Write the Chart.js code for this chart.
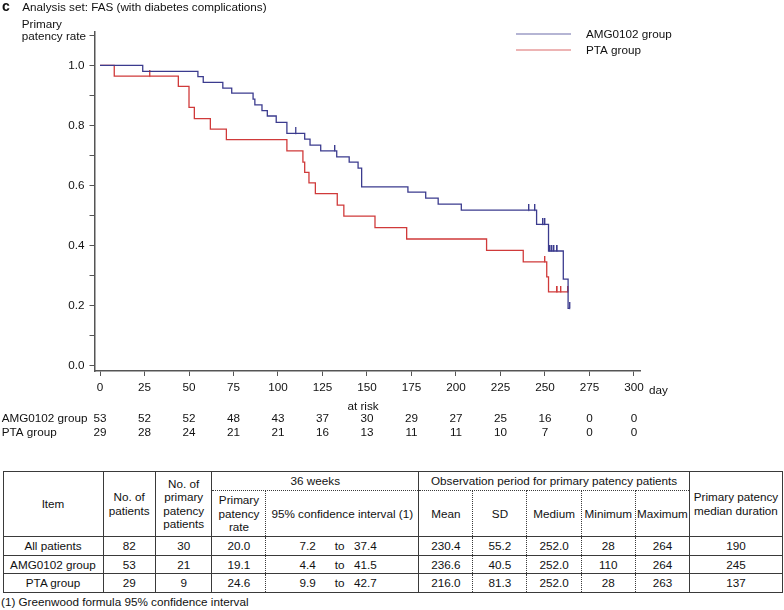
<!DOCTYPE html>
<html><head><meta charset="utf-8">
<script src="https://cdn.jsdelivr.net/npm/chart.js@4.4.1/dist/chart.umd.min.js"></script>
<style>
html,body{margin:0;padding:0;background:#fff;}
body{width:784px;height:610px;position:relative;overflow:hidden;font-family:"Liberation Sans",Arial,Helvetica,sans-serif;color:#111;}
#chartWrap{position:absolute;left:0;top:0;width:784px;height:445px;}
#tbl{position:absolute;left:2.5px;top:470.5px;border-collapse:collapse;table-layout:fixed;width:780px;font-size:11.7px;}
#tbl td{border:1px solid #3a3a3a;text-align:center;vertical-align:middle;padding:0;line-height:13.4px;overflow:hidden;white-space:nowrap;}
#tbl td.dr{border-right:1px dotted #3a3a3a;}
#tbl td.dl{border-left:1px dotted #3a3a3a;}
#tbl td.db{border-bottom:1px dotted #3a3a3a;}
#tbl td.dt{border-top:1px dotted #3a3a3a;}
#tbl td.ci{text-align:left;}
.ci .a{display:inline-block;width:49.3px;text-align:right;}
.ci .b{display:inline-block;width:29px;margin-left:9.3px;text-align:center;}
.ci .c{display:inline-block;}
#foot{position:absolute;left:1px;top:595px;font-size:11.7px;line-height:14px;}
</style></head>
<body>
<div id="chartWrap"><canvas id="c" width="784" height="445"></canvas></div>
<table id="tbl"></table>
<div id="foot">(1) Greenwood formula 95% confidence interval</div>
<script>
// ---------- data ----------
const panelLetter = 'c';
const titleText = 'Analysis set: FAS (with diabetes complications)';
const yTitleLines = ['Primary', 'patency rate'];
const xUnit = 'day';
const seriesNames = ['AMG0102 group', 'PTA group'];
const xTicks = [0, 25, 50, 75, 100, 125, 150, 175, 200, 225, 250, 275, 300];
const yTicks = [0, 0.1, 0.2, 0.3, 0.4, 0.5, 0.6, 0.7, 0.8, 0.9, 1.0, 1.1];
const yTickLabels = ['0.0', '', '0.2', '', '0.4', '', '0.6', '', '0.8', '', '1.0', ''];

// AMG0102 group step curve (day of event, survival after event)
const amgDays = [0, 24, 55, 58, 69, 74, 86, 87, 91, 94, 99, 105, 115, 118, 124, 133, 140, 145, 147, 173, 183, 190, 203, 245.3, 252, 260.3, 263, 264];
const amgRate = [1.0, 0.980, 0.962, 0.943, 0.924, 0.907, 0.887, 0.868, 0.849, 0.831, 0.810, 0.773, 0.754, 0.734, 0.715, 0.695, 0.677, 0.657, 0.595, 0.577, 0.557, 0.537, 0.517, 0.470, 0.381, 0.287, 0.190, 0.190];
const amgCensorDays = [110, 132, 241, 244.4, 249, 250, 253, 254, 255.1, 257, 264];

// PTA group step curve
const ptaDays = [0, 8, 44, 50, 53, 62, 71, 105, 114, 115, 117.4, 121, 133.3, 137, 154.5, 172.3, 217.2, 237.8, 251, 252, 263];
const ptaRate = [1.0, 0.964, 0.930, 0.860, 0.822, 0.787, 0.752, 0.715, 0.677, 0.643, 0.608, 0.572, 0.534, 0.497, 0.459, 0.421, 0.383, 0.345, 0.295, 0.245, 0.245];
const ptaCensorDays = [28, 250, 257, 259, 263];

// numbers at risk
const atRiskLabel = 'at risk';
const amgAtRisk = [53, 52, 52, 48, 43, 37, 30, 29, 27, 25, 16, 0, 0];
const ptaAtRisk = [29, 28, 24, 21, 21, 16, 13, 11, 11, 10, 7, 0, 0];

// summary table
const tableItems = ['All patients', 'AMG0102 group', 'PTA group'];
const tableNPatients = [82, 53, 29];
const tableNPrimary = [30, 21, 9];
const tableRate36 = ['20.0', '19.1', '24.6'];
const tableCiLow = ['7.2', '4.4', '9.9'];
const tableCiHigh = ['37.4', '41.5', '42.7'];
const tableMean = ['230.4', '236.6', '216.0'];
const tableSD = ['55.2', '40.5', '81.3'];
const tableMedium = ['252.0', '252.0', '252.0'];
const tableMin = [28, 110, 28];
const tableMax = [264, 264, 263];
const tableMedianDur = [190, 245, 137];

// ---------- styles ----------
const BLUE = '#3b3b8e';
const RED = '#d03a3a';
const FONT = '"Liberation Sans", Arial, Helvetica, sans-serif';
const FS = 11.7;

function stepValue(days, rates, t) {
  let v = rates[0];
  for (let i = 0; i < days.length; i++) { if (days[i] <= t) v = rates[i]; }
  return v;
}
function tickImage(color) {
  const cv = document.createElement('canvas');
  cv.width = 2; cv.height = 12;
  const c = cv.getContext('2d');
  c.fillStyle = color;
  c.fillRect(0, 0, 1.4, 6.5);
  return cv;
}

const datasets = [
  { type: 'line', label: seriesNames[0], data: amgDays.map((d, i) => ({ x: d, y: amgRate[i] })),
    stepped: true, borderColor: BLUE, borderWidth: 1.3, pointRadius: 0, fill: false },
  { type: 'line', label: seriesNames[1], data: ptaDays.map((d, i) => ({ x: d, y: ptaRate[i] })),
    stepped: true, borderColor: RED, borderWidth: 1.3, pointRadius: 0, fill: false },
  { type: 'scatter', label: 'c1', data: amgCensorDays.map(d => ({ x: d, y: stepValue(amgDays, amgRate, d) })),
    pointStyle: tickImage(BLUE), pointRadius: 3, showLine: false },
  { type: 'scatter', label: 'c2', data: ptaCensorDays.map(d => ({ x: d, y: stepValue(ptaDays, ptaRate, d) })),
    pointStyle: tickImage(RED), pointRadius: 3, showLine: false }
];

const textPlugin = {
  id: 'texts',
  afterDraw(chart) {
    const ctx = chart.ctx;
    const xs = chart.scales.x;
    ctx.save();
    ctx.fillStyle = '#111';
    ctx.textBaseline = 'alphabetic';
    ctx.textAlign = 'left';
    ctx.font = 'bold 14px ' + FONT;
    ctx.fillText(panelLetter, 2, 11);
    ctx.font = FS + 'px ' + FONT;
    ctx.fillText(titleText, 22.3, 11);
    ctx.fillText(yTitleLines[0], 21.7, 27.8);
    ctx.fillText(yTitleLines[1], 21.7, 40.3);
    ctx.fillText(xUnit, 649, 393.5);
    // legend
    const legY = [34, 50];
    const cols = [BLUE, RED];
    for (let i = 0; i < 2; i++) {
      ctx.strokeStyle = cols[i];
      ctx.globalAlpha = 0.75;
      ctx.lineWidth = 1.2;
      ctx.beginPath(); ctx.moveTo(516, legY[i]); ctx.lineTo(571, legY[i]); ctx.stroke();
      ctx.globalAlpha = 1;
      ctx.fillText(seriesNames[i], 586, legY[i] + 4);
    }
    // at-risk rows
    ctx.fillText(seriesNames[0], 1.7, 422.2);
    ctx.fillText(seriesNames[1], 1.7, 435.6);
    ctx.textAlign = 'center';
    ctx.fillText(atRiskLabel, xs.getPixelForValue(150) - 4, 409.5);
    xTicks.forEach((t, i) => {
      const px = xs.getPixelForValue(t);
      ctx.fillText(String(amgAtRisk[i]), px, 422.2);
      ctx.fillText(String(ptaAtRisk[i]), px, 435.6);
    });
    ctx.restore();
  }
};

new Chart(document.getElementById('c'), {
  data: { datasets },
  options: {
    responsive: false,
    animation: false,
    devicePixelRatio: 1,
    layout: { padding: { top: 32, right: 144, left: 0, bottom: 0 } },
    plugins: { legend: { display: false }, tooltip: { enabled: false } },
    scales: {
      x: {
        type: 'linear', min: -3.1, max: 303.4,
        afterBuildTicks: s => { s.ticks = xTicks.map(v => ({ value: v })); },
        afterFit: s => { s.height = 445 - 371; },
        ticks: { autoSkip: false, maxRotation: 0, color: '#111', font: { family: FONT, size: FS }, padding: 5,
                 callback: v => String(v) },
        grid: { display: true, drawOnChartArea: false, drawTicks: true, tickLength: 5, color: '#555', lineWidth: 1 },
        border: { display: true, color: '#555', width: 1.5 }
      },
      y: {
        type: 'linear', min: -0.019, max: 1.111,
        afterBuildTicks: s => { s.ticks = yTicks.map(v => ({ value: v })); },
        afterFit: s => { s.width = 94.5; },
        ticks: { autoSkip: false, color: '#111', font: { family: FONT, size: FS }, padding: 5,
                 callback: (v, i) => yTickLabels[i] },
        grid: { display: true, drawOnChartArea: false, drawTicks: true, tickLength: 5, color: '#555', lineWidth: 1 },
        border: { display: true, color: '#555', width: 1.5 }
      }
    }
  },
  plugins: [textPlugin]
});

// ---------- table ----------
(function buildTable() {
  const t = document.getElementById('tbl');
  const widths = [100, 52.3, 56.7, 54, 152.6, 54.4, 54, 54.3, 54, 54.3, 92.7];
  let html = '<colgroup>' + widths.map(w => '<col style="width:' + w + 'px">').join('') + '</colgroup>';
  html += '<tr style="height:19.5px">' +
    '<td rowspan="2">Item</td>' +
    '<td rowspan="2">No. of<br>patients</td>' +
    '<td rowspan="2">No. of<br>primary<br>patency<br>patients</td>' +
    '<td colspan="2" class="db">36 weeks</td>' +
    '<td colspan="5" class="db">Observation period for primary patency patients</td>' +
    '<td rowspan="2">Primary patency<br>median duration</td></tr>';
  html += '<tr style="height:46px">' +
    '<td class="dt dr">Primary<br>patency<br>rate</td>' +
    '<td class="dt dl">95% confidence interval (1)</td>' +
    '<td class="dt dr">Mean</td>' +
    '<td class="dt dl dr">SD</td>' +
    '<td class="dt dl dr">Medium</td>' +
    '<td class="dt dl dr">Minimum</td>' +
    '<td class="dt dl">Maximum</td></tr>';
  for (let i = 0; i < tableItems.length; i++) {
    html += '<tr style="height:18.5px">' +
      '<td>' + tableItems[i] + '</td>' +
      '<td>' + tableNPatients[i] + '</td>' +
      '<td>' + tableNPrimary[i] + '</td>' +
      '<td class="dr">' + tableRate36[i] + '</td>' +
      '<td class="dl ci"><span class="a">' + tableCiLow[i] + '</span><span class="b">to</span><span class="c">' + tableCiHigh[i] + '</span></td>' +
      '<td class="dr">' + tableMean[i] + '</td>' +
      '<td class="dl dr">' + tableSD[i] + '</td>' +
      '<td class="dl dr">' + tableMedium[i] + '</td>' +
      '<td class="dl dr">' + tableMin[i] + '</td>' +
      '<td class="dl">' + tableMax[i] + '</td>' +
      '<td>' + tableMedianDur[i] + '</td></tr>';
  }
  t.innerHTML = html;
})();
</script>
</body></html>
